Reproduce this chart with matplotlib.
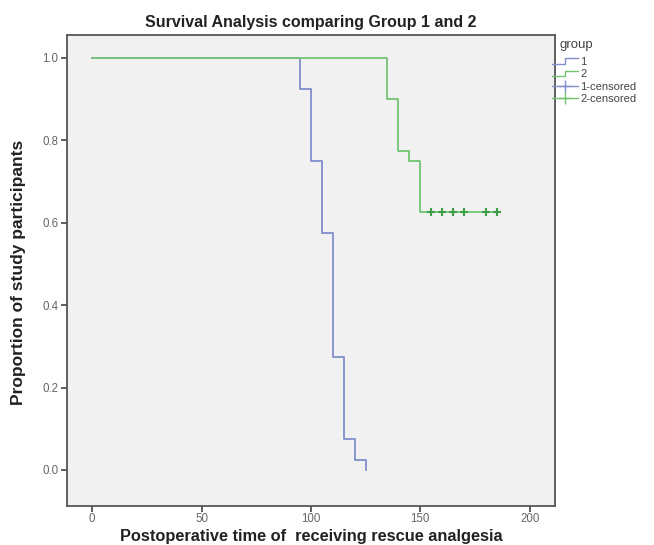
import matplotlib.pyplot as plt
from matplotlib.legend_handler import HandlerBase
from matplotlib.lines import Line2D

plt.rcParams['font.family'] = ['Liberation Sans', 'DejaVu Sans']

# Kaplan-Meier steps
t1 = [0, 95, 100, 105, 110, 115, 120, 125]
s1 = [1.0, 0.925, 0.75, 0.575, 0.275, 0.075, 0.025, 0.0]
t2 = [0, 135, 140, 145, 150, 185]
s2 = [1.0, 0.9, 0.775, 0.75, 0.625, 0.625]
cens2_t = [155, 160, 165, 170, 180, 185]
cens2_s = [0.625, 0.625, 0.625, 0.625, 0.625, 0.625]

xticks = [0, 50, 100, 150, 200]
yticks = [0.0, 0.2, 0.4, 0.6, 0.8, 1.0]

c1 = '#7f8fcc'
c2 = '#72c472'
c2m = '#3f9f48'
txt = '#666666'


class StepHandler(HandlerBase):
    # little step icon like the SPSS legend
    def create_artists(self, legend, orig, xd, yd, w, h, fs, trans):
        xs = [xd, xd + w * 0.5, xd + w * 0.5, xd + w]
        ys = [yd + h * 0.15, yd + h * 0.15, yd + h * 0.85, yd + h * 0.85]
        ln = Line2D(xs, ys, color=orig.get_color(), lw=1.0, transform=trans)
        return [ln]


fig = plt.figure(figsize=(6.54, 5.45), dpi=100)
ax = fig.add_axes([0.1024, 0.072, 0.746, 0.864])
ax.set_facecolor('#f1f1f1')

l1, = ax.step(t1, s1, where='post', color=c1, lw=1.3)
l2, = ax.step(t2, s2, where='post', color=c2, lw=1.3)
ax.plot(cens2_t, cens2_s, linestyle='none', marker='+', color=c2m,
        markersize=6, markeredgewidth=1.5)

ax.set_xlim(-11.5, 211.5)
ax.set_ylim(-0.087, 1.056)
ax.set_xticks(xticks)
ax.set_yticks(yticks)
ax.set_yticklabels(['%.1f' % v for v in yticks])
ax.tick_params(direction='out', length=4, width=1.2, colors='#444444',
               labelcolor=txt, labelsize=8.3, pad=2)
ax.tick_params(axis='x', pad=1)
for sp in ax.spines.values():
    sp.set_color('#555555')
    sp.set_linewidth(1.3)

ax.set_title('Survival Analysis comparing Group 1 and 2', fontsize=11.5,
             fontweight='bold', color='#222222', pad=6)
# x label sits close to the bottom edge, placed by hand
fig.text(311 / 654, 1 - 536 / 545, 'Postoperative time of  receiving rescue analgesia',
         fontsize=11.8, fontweight='bold', color='#222222', ha='center', va='center')
fig.text(19 / 654, 0.5 + 0.0, 'Proportion of study participants', fontsize=12.5,
         fontweight='bold', color='#222222', rotation=90, ha='center', va='center')

fig.text(560 / 654, 1 - 45 / 545, 'group', fontsize=9.5, color='#444444',
         va='center', ha='left')
h3 = Line2D([], [], color=c1, marker='+', markersize=8, lw=1.0)
h4 = Line2D([], [], color=c2, marker='+', markersize=8, lw=1.0)
leg = fig.legend([l1, l2, h3, h4], ['1', '2', '1-censored', '2-censored'],
                 loc='upper left', bbox_to_anchor=(552 / 654, 1 - 57 / 545),
                 handler_map={l1: StepHandler(), l2: StepHandler()},
                 frameon=False, fontsize=8,
                 handlelength=2.3, handletextpad=0.25, labelspacing=0.22,
                 borderaxespad=0, borderpad=0)
for t in leg.get_texts():
    t.set_color('#444444')

plt.savefig('out.png', dpi=100)
